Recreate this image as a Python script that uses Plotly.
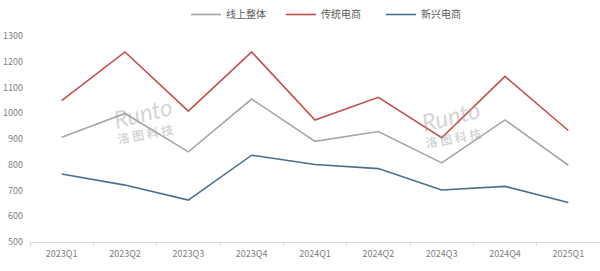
import plotly.graph_objects as go

categories = ["2023Q1", "2023Q2", "2023Q3", "2023Q4", "2024Q1", "2024Q2", "2024Q3", "2024Q4", "2025Q1"]
online_total = [907, 999, 850, 1055, 891, 929, 807, 974, 798]
traditional = [1049, 1238, 1008, 1238, 974, 1062, 905, 1143, 933]
emerging = [764, 721, 663, 837, 801, 785, 702, 716, 653]

series_names = ["线上整体", "传统电商", "新兴电商"]
colors = ["#a6a6a6", "#c0504d", "#4a6f8e"]
y_ticks = [500, 600, 700, 800, 900, 1000, 1100, 1200, 1300]

font_family = "Noto Sans CJK SC, Noto Sans, sans-serif"

L, R, T, B = 30, 0, 35, 29
W, H = 600, 271
pw, ph = W - L - R, H - T - B

def px(x):
    return (x - L) / pw

def py(y):
    return 1 - (y - T) / ph

legend_ids = ["legend", "legend2", "legend3"]
legend_left = [186, 281, 381]

fig = go.Figure()
for name, vals, c, lid in zip(series_names, [online_total, traditional, emerging], colors, legend_ids):
    fig.add_trace(go.Scatter(x=categories, y=vals, name=name, mode="lines",
                             line=dict(color=c, width=1.6), legend=lid))

# watermarks
for (x, y1, y2) in [(143, 112, 133), (451, 115, 137)]:
    fig.add_annotation(x=px(x), y=py(y1), xref="paper", yref="paper", text="<i>Runto</i>",
                       showarrow=False, textangle=-14, xanchor="center", yanchor="middle",
                       font=dict(size=24, color="rgba(160,160,160,0.45)", family="Lato"))
    fig.add_annotation(x=px(x + 2), y=py(y2), xref="paper", yref="paper", text="<b>洛 图 科 技</b>",
                       showarrow=False, textangle=-10, xanchor="center", yanchor="middle",
                       font=dict(size=12, color="rgba(160,160,160,0.45)", family=font_family))

legend_common = dict(orientation="h", xanchor="left", y=py(13), yanchor="middle",
                     font=dict(size=10, color="#595959"), itemwidth=30,
                     bgcolor="rgba(0,0,0,0)")

fig.update_layout(
    width=W, height=H,
    margin=dict(l=L, r=R, t=T, b=B),
    paper_bgcolor="white", plot_bgcolor="white",
    font=dict(family=font_family, color="#7f7f7f", size=9),
    showlegend=True,
    legend=dict(x=px(legend_left[0]), **legend_common),
    legend2=dict(x=px(legend_left[1]), **legend_common),
    legend3=dict(x=px(legend_left[2]), **legend_common),
    xaxis=dict(type="category", showgrid=False, showline=True, linecolor="#d9d9d9",
               linewidth=1, ticks="outside", ticklen=3, tickcolor="#d9d9d9",
               tickson="boundaries", tickfont=dict(size=9, color="#7f7f7f"),
               ticklabelstandoff=3,
               range=[-0.5, len(categories) - 0.5]),
    yaxis=dict(range=[500, 1300], tickvals=y_ticks, showgrid=False, showline=False,
               zeroline=False, tickfont=dict(size=9, color="#7f7f7f"), ticks="",
               ticklabelstandoff=6),
)

fig.write_html("out.html")
